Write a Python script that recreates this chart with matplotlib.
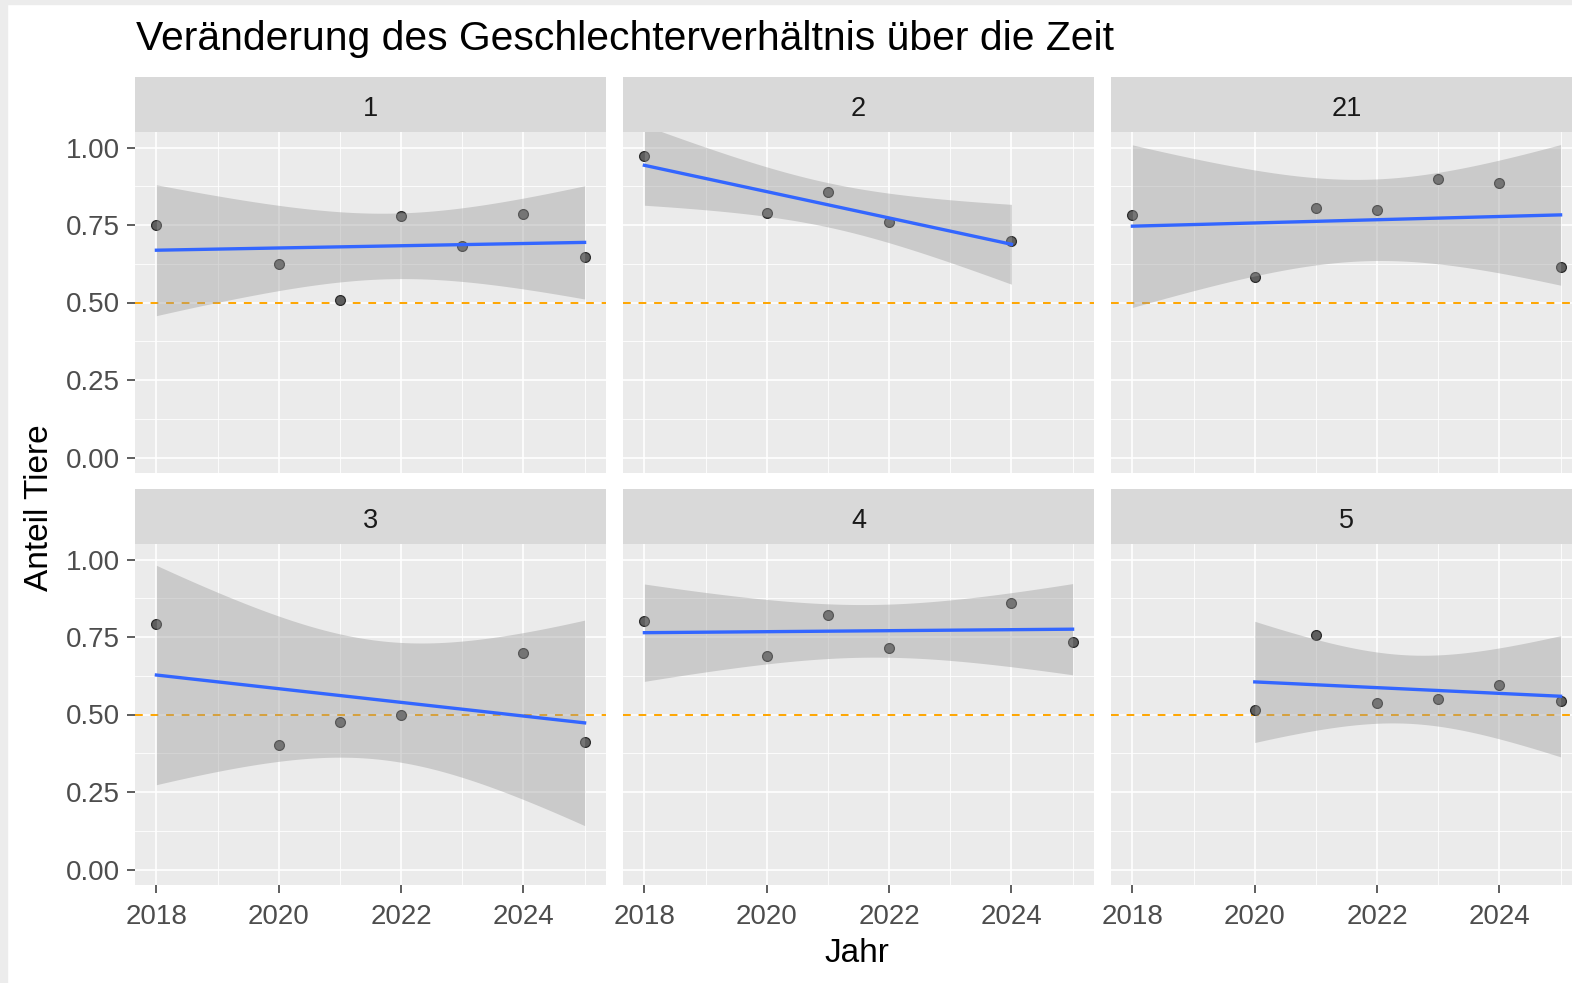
import numpy as np
import matplotlib.pyplot as plt
from matplotlib.patches import Rectangle

plt.rcParams['font.family'] = ['Liberation Sans', 'DejaVu Sans']

# data per facet (Jahr, Anteil)
facets = ['1', '2', '21', '3', '4', '5']
years_1 = [2018, 2020, 2021, 2022, 2023, 2024, 2025]
share_1 = [0.750, 0.624, 0.508, 0.779, 0.683, 0.786, 0.648]
years_2 = [2018, 2020, 2021, 2022, 2024]
share_2 = [0.973, 0.789, 0.855, 0.759, 0.700]
years_21 = [2018, 2020, 2021, 2022, 2023, 2024, 2025]
share_21 = [0.782, 0.582, 0.804, 0.797, 0.900, 0.886, 0.613]
years_3 = [2018, 2020, 2021, 2022, 2024, 2025]
share_3 = [0.793, 0.403, 0.476, 0.499, 0.698, 0.410]
years_4 = [2018, 2020, 2021, 2022, 2024, 2025]
share_4 = [0.801, 0.690, 0.822, 0.713, 0.859, 0.734]
years_5 = [2020, 2021, 2022, 2023, 2024, 2025]
share_5 = [0.514, 0.755, 0.536, 0.550, 0.594, 0.543]

data = [(years_1, share_1), (years_2, share_2), (years_21, share_21),
        (years_3, share_3), (years_4, share_4), (years_5, share_5)]

x_major = [2018, 2020, 2022, 2024]
x_minor = [2019, 2021, 2023, 2025]
y_major = [0.0, 0.25, 0.5, 0.75, 1.0]
y_minor = [0.125, 0.375, 0.625, 0.875]

# t quantiles (97.5%) for the 95% confidence band of lm
t975 = {3: 3.182446, 4: 2.776445, 5: 2.570582}


def lm_band(x, y, xs):
    x = np.asarray(x, float)
    y = np.asarray(y, float)
    n = len(x)
    b, a = np.polyfit(x, y, 1)
    res = y - (a + b * x)
    s = np.sqrt(np.sum(res ** 2) / (n - 2))
    sxx = np.sum((x - x.mean()) ** 2)
    fit = a + b * xs
    se = s * np.sqrt(1 / n + (xs - x.mean()) ** 2 / sxx)
    hw = t975[n - 2] * se
    return fit, fit - hw, fit + hw


W, H = 1572, 983
fig = plt.figure(figsize=(W / 100, H / 100), dpi=100)
fig.patches.append(Rectangle((0, 0), 7 / W, 1, transform=fig.transFigure,
                             color='#ECECEC', zorder=-1))
fig.patches.append(Rectangle((0, 1 - 4 / H), 1, 4 / H, transform=fig.transFigure,
                             color='#ECECEC', zorder=-1))


def px_axes(l, t, r, b):
    return fig.add_axes([l / W, 1 - b / H, (r - l) / W, (b - t) / H])


col_left = [135, 623, 1111]
panel_w = 471
strip_top = [77, 489]
strip_h = 55
panel_h = 341

for i, (name, (xs_data, ys_data)) in enumerate(zip(facets, data)):
    r, c = divmod(i, 3)
    l = col_left[c]
    t = strip_top[r]

    sax = px_axes(l, t, l + panel_w, t + strip_h)
    sax.set_facecolor('#D9D9D9')
    sax.set_xticks([])
    sax.set_yticks([])
    for sp in sax.spines.values():
        sp.set_visible(False)
    sax.text(0.5, 0.42, name, ha='center', va='center', fontsize=19.5,
             color='#1A1A1A', transform=sax.transAxes)

    ax = px_axes(l, t + strip_h, l + panel_w, t + strip_h + panel_h)
    ax.set_facecolor('#EBEBEB')
    for sp in ax.spines.values():
        sp.set_visible(False)
    ax.set_xlim(2017.65, 2025.35)
    ax.set_ylim(-0.05, 1.05)
    ax.set_xticks(x_major)
    ax.set_xticks(x_minor, minor=True)
    ax.set_yticks(y_major)
    ax.set_yticks(y_minor, minor=True)
    ax.grid(which='major', color='white', lw=1.2)
    ax.grid(which='minor', color='white', lw=0.6)
    ax.set_axisbelow(True)
    ax.tick_params(which='minor', length=0)
    ax.tick_params(which='major', length=6, width=1.1, color='#333333',
                   labelsize=20, labelcolor='#4D4D4D')
    ax.tick_params(axis='x', pad=8)
    ax.tick_params(axis='y', pad=5)
    ax.set_yticklabels(['0.00', '0.25', '0.50', '0.75', '1.00'])
    if c != 0:
        ax.tick_params(axis='y', length=0, labelleft=False)
    if r != 1:
        ax.tick_params(axis='x', length=0, labelbottom=False)

    ax.axhline(0.5, color='orange', lw=1.4, ls=(0, (4, 4)), zorder=1)
    ax.scatter(xs_data, ys_data, s=50, facecolor='#5e5e5e', edgecolor='#2b2b2b',
               lw=0.9, zorder=2)
    xs = np.linspace(min(xs_data), max(xs_data), 80)
    fit, lo, hi = lm_band(xs_data, ys_data, xs)
    ax.fill_between(xs, lo, hi, color='#999999', alpha=0.4, lw=0, zorder=3)
    ax.plot(xs, fit, color='#3366FF', lw=2.4, zorder=4)

fig.text(136 / W, 1 - 39 / H, 'Veränderung des Geschlechterverhältnis über die Zeit',
         ha='left', va='center', fontsize=29.4, color='black')
fig.text(857 / W, 1 - 954 / H, 'Jahr', ha='center', va='center', fontsize=24,
         color='black')
fig.text(40 / W, 1 - 508 / H, 'Anteil Tiere', ha='center', va='center',
         fontsize=24, rotation=90, color='black')

fig.savefig('out.png', dpi=100)
